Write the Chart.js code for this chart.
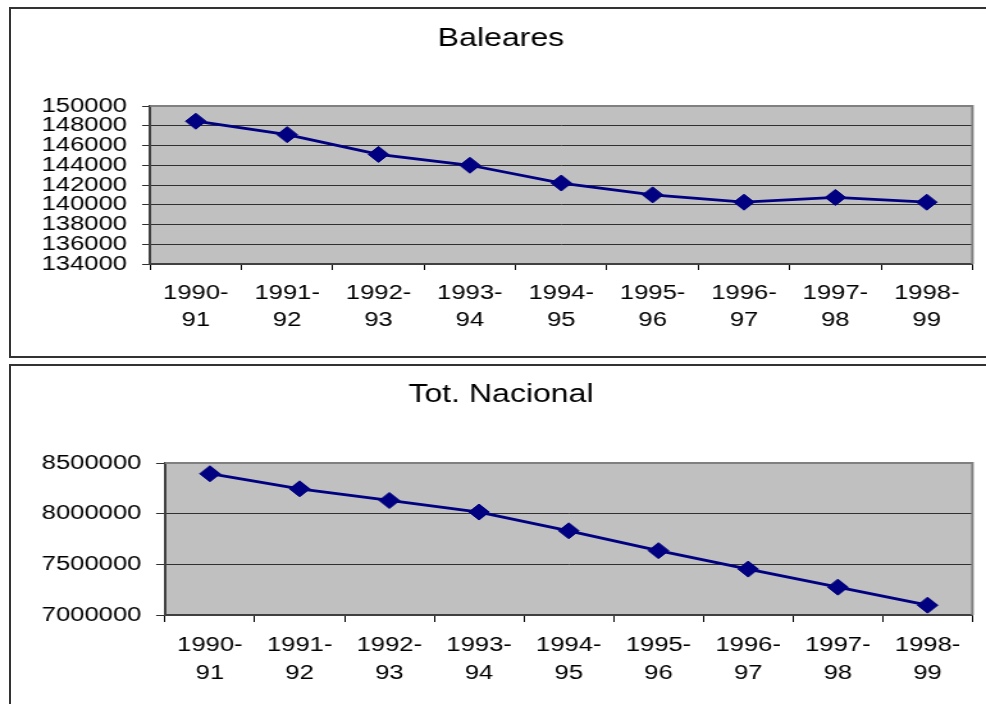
<!DOCTYPE html>
<html>
<head>
<meta charset="utf-8">
<script src="https://cdn.jsdelivr.net/npm/chart.js@4.4.0/dist/chart.umd.min.js"></script>
<style>
  body { margin: 0; background: #fff; overflow: hidden; width: 986px; height: 704px; position: relative; }
  .panel { position: absolute; left: 9px; width: 990px; border: 2px solid #333; box-sizing: border-box; }
  canvas { position: absolute; left: 0; }
</style>
</head>
<body>
<div class="panel" style="top:7px;height:351px;"></div>
<div class="panel" style="top:364px;height:350px;"></div>
<canvas id="balearesChart" width="770" height="357" style="top:0;width:986px;height:357px;"></canvas>
<canvas id="nacionalChart" width="770" height="344" style="top:360px;width:986px;height:344px;"></canvas>
<script>
const seasons = ["1990-91", "1991-92", "1992-93", "1993-94", "1994-95", "1995-96", "1996-97", "1997-98", "1998-99"];
const baleares = [148460, 147100, 145100, 144000, 142200, 141000, 140260, 140740, 140260];
const nacional = [8394000, 8245000, 8130000, 8016000, 7831000, 7635000, 7453000, 7275000, 7097000];
const balearesTicks = [134000, 150000, 2000];
const nacionalTicks = [7000000, 8500000, 500000];

// canvases are drawn narrow and stretched by css, like the original picture
const FONT = "'Liberation Sans', Arial, sans-serif";

const plotBackground = {
  id: "plotBackground",
  beforeDraw(chart) {
    const { ctx, chartArea: a } = chart;
    ctx.save();
    ctx.fillStyle = "#c0c0c0";
    ctx.fillRect(a.left, a.top, a.right - a.left, a.bottom - a.top);
    ctx.restore();
  },
  beforeDatasetsDraw(chart) {
    const { ctx, chartArea: a } = chart;
    ctx.save();
    ctx.strokeStyle = "#808080";
    ctx.lineWidth = 2;
    ctx.beginPath();
    ctx.moveTo(a.left, a.top);
    ctx.lineTo(a.right, a.top);
    ctx.lineTo(a.right, a.bottom);
    ctx.stroke();
    ctx.restore();
  },
};

function makeChart(id, title, values, ticks, opts) {
  const ctx = document.getElementById(id).getContext("2d");
  return new Chart(ctx, {
    type: "line",
    data: {
      labels: seasons.map((s) => [s.slice(0, 5), s.slice(5)]),
      datasets: [
        {
          label: title,
          data: values,
          borderColor: "#000080",
          backgroundColor: "#000080",
          borderWidth: 2.8,
          pointStyle: "rectRot",
          pointRadius: 8,
          pointBorderWidth: 1,
          pointBorderColor: "#000080",
          tension: 0,
        },
      ],
    },
    plugins: [plotBackground],
    options: {
      responsive: false,
      devicePixelRatio: 1,
      animation: false,
      layout: { padding: { left: 23, right: 10.6, top: 0, bottom: 0 } },
      plugins: {
        legend: { display: false },
        tooltip: { enabled: false },
        title: {
          display: true,
          text: title,
          color: "#000",
          font: { family: FONT, size: 25, weight: "normal", lineHeight: 1.2 },
          padding: { top: opts.titleTop, bottom: opts.titleBottom },
        },
      },
      scales: {
        x: {
          offset: true,
          afterFit: (scale) => { scale.height = opts.xHeight; },
          grid: {
            offset: true,
            drawOnChartArea: false,
            drawTicks: true,
            tickLength: opts.xTick,
            color: "#000",
            lineWidth: 1,
          },
          border: { display: true, color: "#404040", width: 2 },
          ticks: {
            color: "#000",
            padding: opts.xPad,
            maxRotation: 0,
            autoSkip: false,
            font: { family: FONT, size: 20, lineHeight: opts.xLine },
          },
        },
        y: {
          min: ticks[0],
          max: ticks[1],
          afterFit: (scale) => { scale.width = opts.yWidth; },
          grid: {
            color: "#303030",
            lineWidth: 1,
            drawTicks: true,
            tickLength: opts.yTick,
          },
          border: { display: true, color: "#404040", width: 2 },
          ticks: {
            stepSize: ticks[2],
            autoSkip: false,
            color: "#000",
            padding: opts.yPad,
            font: { family: FONT, size: 20 },
            callback: (v) => String(v),
          },
        },
      },
    },
  });
}

document.addEventListener("DOMContentLoaded", () => {
  makeChart("balearesChart", "Baleares", baleares, balearesTicks, {
    titleTop: 24, titleBottom: 52, xHeight: 93, xTick: 6, xPad: 10, xLine: 1.35,
    yWidth: 94.2, yTick: 6.25, yPad: 11.75,
  });
  makeChart("nacionalChart", "Tot. Nacional", nacional, nacionalTicks, {
    titleTop: 20.5, titleBottom: 52.5, xHeight: 89, xTick: 7, xPad: 9.5, xLine: 1.4,
    yWidth: 105.9, yTick: 7, yPad: 11.5,
  });
});
</script>
</body>
</html>
